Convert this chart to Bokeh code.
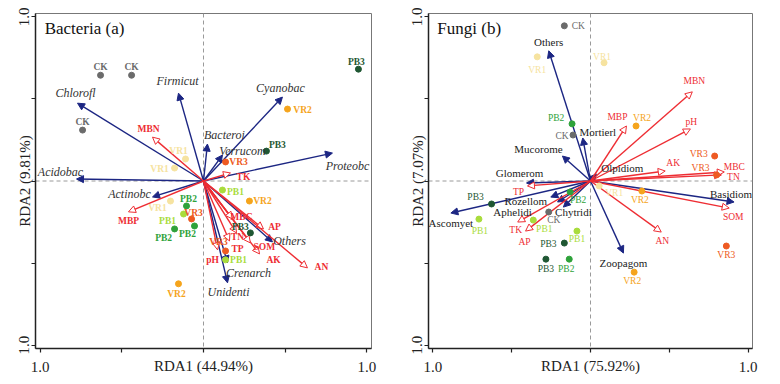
from bokeh.plotting import figure
from bokeh.layouts import row
from bokeh.models import ColumnDataSource, Arrow, NormalHead, Span, FixedTicker, Label, Range1d
from bokeh.core.properties import value
from bokeh.embed import file_html
from bokeh.resources import INLINE

# ---------------- Bacteria (a) ----------------
bac_species = ["Chlorofl", "Firmicut", "Acidobac", "Actinobc", "Bacteroi", "Verrucom",
               "Cyanobac", "Proteobc", "Others", "Crenarch", "Unidenti"]
bac_species_x = [-0.771, -0.153, -0.777, -0.312, 0.024, 0.116, 0.483, 0.789, 0.422, 0.147, 0.147]
bac_species_y = [0.474, 0.535, 0.012, -0.097, 0.225, 0.158, 0.511, 0.170, -0.371, -0.498, -0.620]

bac_env = ["MBN", "MBP", "TK", "AP", "AN", "AK", "SOM", "TN", "MBC", "TP", "pH"]
bac_env_x = [-0.312, -0.459, 0.165, 0.367, 0.636, 0.343, 0.287, 0.202, 0.177, 0.159, 0.086]
bac_env_y = [0.267, -0.188, 0.049, -0.292, -0.529, -0.444, -0.377, -0.316, -0.231, -0.365, -0.419]

bac_sample = ["CK", "CK", "CK", "VR1", "VR1", "VR1", "PB2", "PB2", "PB2", "PB1", "PB1", "PB1",
              "VR3", "VR3", "VR3", "VR2", "VR2", "VR2", "PB3", "PB3", "PB3"]
bac_sample_x = [-0.630, -0.440, -0.740, -0.110, -0.177, -0.202, -0.104, -0.055, -0.177, -0.122, 0.116, 0.135,
                -0.073, 0.135, 0.135, 0.514, 0.281, -0.153, 0.948, 0.385, 0.287]
bac_sample_y = [0.644, 0.644, 0.310, 0.134, 0.079, -0.122, -0.152, -0.274, -0.292, -0.201, -0.055, -0.480,
                -0.231, 0.116, -0.426, 0.438, -0.122, -0.626, 0.681, 0.182, -0.316]

# ---------------- Fungi (b) ----------------
fun_species = ["Others", "Mortierl", "Mucorome", "Glomerom", "Ascomyet", "Rozellom", "Aphelidi",
               "Chytridi", "Olpidiom", "Basidiom", "Zoopagom"]
fun_species_x = [-0.265, -0.049, -0.178, -0.406, -0.886, -0.252, -0.209, -0.172, 0.037, 0.911, 0.209]
fun_species_y = [0.793, 0.262, 0.152, -0.012, -0.195, -0.098, -0.128, -0.159, 0.043, -0.128, -0.439]

fun_env = ["MBN", "MBP", "pH", "AK", "MBC", "TN", "SOM", "AN", "TP", "TK", "AP"]
fun_env_x = [0.646, 0.228, 0.634, 0.474, 0.849, 0.831, 0.880, 0.449, -0.400, -0.462, -0.412]
fun_env_y = [0.543, 0.335, 0.317, 0.061, 0.055, 0.037, -0.165, -0.311, -0.030, -0.250, -0.305]

fun_sample = ["CK", "CK", "CK", "VR1", "VR1", "VR1", "PB2", "PB2", "PB2", "PB3", "PB3", "PB3",
              "PB1", "PB1", "PB1", "VR2", "VR2", "VR2", "VR3", "VR3", "VR3"]
fun_sample_x = [-0.166, -0.111, -0.265, -0.338, 0.086, 0.055, -0.117, -0.129, -0.135, -0.628, -0.166, -0.283,
                -0.708, -0.363, -0.086, 0.289, 0.326, 0.277, 0.788, 0.800, 0.862]
fun_sample_y = [0.945, 0.280, -0.189, 0.756, 0.720, -0.030, 0.348, -0.067, -0.476, -0.140, -0.378, -0.476,
                -0.232, -0.238, -0.305, 0.335, -0.061, -0.555, 0.152, 0.037, -0.396]

axis_ticks = [-1.0, -0.5, 0.0, 0.5, 1.0]
axis_tick_labels = ["1.0", "", "", "", "1.0"]

# ---------------- styles (label offsets in screen px) ----------------
bac_species_off = [(-2, -10), (-1, -12), (-16, -7), (-23, -3), (17, -9), (20, -4), (-2, -9), (15, 13),
                   (17, -1), (21, 10), (1, 9)]
bac_env_off = [(-4, -8), (0, 9), (13, 4), (11, -2), (14, -1), (14, 6), (14, 4), (1, 4), (9, -2), (8, 8), (-5, 10)]
bac_sample_off = [(0, -8), (0, -8), (0, -8), (-7, -8), (-15, 1), (-13, 7), (2, -7), (-7, 8), (-11, 9),
                  (-16, 7), (13, 2), (13, 0), (2, -6), (13, 0), (-7, -9), (15, 1), (13, 0), (-2, 10),
                  (-2, -7), (11, -6), (-10, -6)]
fun_species_off = [(0, -9), (15, -6), (-24, -7), (-7, -10), (0, 10), (-25, 4), (-45, 10), (10, 5),
                   (26, -6), (-3, -8), (0, 10)]
fun_env_off = [(2, -11), (-9, -9), (1, -7), (8, -8), (10, -5), (12, 2), (4, 9), (1, 9), (-9, 6), (-2, 8), (-1, 11)]
fun_sample_off = [(14, 0), (-11, 1), (5, 8), (0, 13), (-2, -6), (15, 7), (-16, -6), (8, 8), (-3, 10),
                  (-16, -7), (-16, 1), (0, 10), (1, 12), (11, 9), (0, 8), (6, -8), (-2, 9), (-2, 9),
                  (-16, -2), (-16, -7), (0, 9)]

group_color = {"CK": "#6b6b6b", "VR1": "#f6e3a0", "VR2": "#f5a41c", "VR3": "#ee5a22",
               "PB1": "#a9dc3c", "PB2": "#2ea23a", "PB3": "#1f5733"}
NAVY = "#1c2683"
RED = "#ee2d33"
FONT = "Liberation Serif"


def make_panel(title, xlab, ylab, species, sx, sy, soff, env, ex, ey, eoff, samples, px, py, poff,
               bold, sp_style, sp_color, sp_size, lab_size, width, bl, br):
    p = figure(width=width, height=382, x_range=Range1d(-1.028, 1.028), y_range=Range1d(-1.02, 1.02),
               output_backend="svg", toolbar_location=None, min_border_left=bl, min_border_right=br,
               min_border_top=13, min_border_bottom=34, background_fill_color="white")
    p.grid.visible = False
    p.outline_line_color = "#777777"
    p.outline_line_width = 1
    overrides = {t: s for t, s in zip(axis_ticks, axis_tick_labels)}
    for ax in (p.xaxis[0], p.yaxis[0]):
        ax.ticker = FixedTicker(ticks=axis_ticks)
        ax.major_label_overrides = overrides
        ax.minor_tick_line_color = None
        ax.major_tick_in = 0
        ax.major_tick_out = 4
        ax.axis_line_color = "#222222"
        ax.axis_line_width = 1.5
        ax.major_tick_line_color = "#222222"
        ax.major_tick_line_width = 1.2
        ax.major_label_text_font = FONT
        ax.major_label_text_font_size = "15px"
        ax.major_label_text_color = "#222222"
        ax.axis_label_text_font = FONT
        ax.axis_label_text_font_style = "normal"
        ax.axis_label_text_font_size = "15px"
        ax.axis_label_text_color = "#222222"
        ax.major_label_standoff = 2
    p.xaxis.axis_label = xlab
    p.yaxis.axis_label = ylab
    p.yaxis.major_label_orientation = "vertical"
    p.xaxis.major_label_standoff = 9
    p.xaxis.axis_label_standoff = -17
    p.yaxis.axis_label_standoff = -16

    p.add_layout(Span(location=0, dimension="height", line_color="#9a9a9a", line_dash="4 3",
                      line_width=1, level="underlay"))
    p.add_layout(Span(location=0, dimension="width", line_color="#9a9a9a", line_dash="4 3",
                      line_width=1, level="underlay"))

    # species arrows
    ssrc = ColumnDataSource(dict(x0=[0] * len(species), y0=[0] * len(species), x=sx, y=sy, t=species,
                                 dx=[o[0] for o in soff], dy=[o[1] for o in soff]))
    p.add_layout(Arrow(end=NormalHead(size=7, fill_color=NAVY, line_color=NAVY, line_width=1),
                       x_start="x0", y_start="y0", x_end="x", y_end="y", source=ssrc,
                       line_color=NAVY, line_width=1.4, level="underlay"))
    # environment arrows
    esrc = ColumnDataSource(dict(x0=[0] * len(env), y0=[0] * len(env), x=ex, y=ey, t=env,
                                 dx=[o[0] for o in eoff], dy=[o[1] for o in eoff]))
    p.add_layout(Arrow(end=NormalHead(size=7, fill_color="white", line_color=RED, line_width=1),
                       x_start="x0", y_start="y0", x_end="x", y_end="y", source=esrc,
                       line_color=RED, line_width=1.4, level="underlay"))

    # samples
    cols = [group_color[s] for s in samples]
    psrc = ColumnDataSource(dict(x=px, y=py, t=samples, c=cols,
                                 dx=[o[0] for o in poff], dy=[o[1] for o in poff]))
    p.scatter("x", "y", source=psrc, size=6, fill_color="c", line_color="c", marker="circle")

    weight = "bold" if bold else "normal"
    p.text("x", "y", text="t", source=psrc, x_offset="dx", y_offset="dy", text_color="c",
           text_font=value(FONT), text_font_style=weight, text_font_size=lab_size,
           text_align="center", text_baseline="middle")
    p.text("x", "y", text="t", source=esrc, x_offset="dx", y_offset="dy", text_color=RED,
           text_font=value(FONT), text_font_style=weight, text_font_size=lab_size,
           text_align="center", text_baseline="middle")
    p.text("x", "y", text="t", source=ssrc, x_offset="dx", y_offset="dy", text_color=sp_color,
           text_font=value(FONT), text_font_style=sp_style, text_font_size=sp_size,
           text_align="center", text_baseline="middle")

    p.add_layout(Label(x=-0.972, y=0.93, text=title, text_font=FONT, text_font_size="17px",
                       text_baseline="middle", text_align="left", text_color="#111111"))
    return p


p1 = make_panel("Bacteria (a)", "RDA1 (44.94%)", "RDA2 (9.81%)",
                bac_species, bac_species_x, bac_species_y, bac_species_off,
                bac_env, bac_env_x, bac_env_y, bac_env_off,
                bac_sample, bac_sample_x, bac_sample_y, bac_sample_off,
                True, "italic", "#333333", "12px", "9.5px", 390, 35, 19)
p2 = make_panel("Fungi (b)", "RDA1 (75.92%)", "RDA2 (7.07%)",
                fun_species, fun_species_x, fun_species_y, fun_species_off,
                fun_env, fun_env_x, fun_env_y, fun_env_off,
                fun_sample, fun_sample_x, fun_sample_y, fun_sample_off,
                False, "normal", "#222222", "11px", "9.5px", 388, 38, 26)

layout = row(p1, p2)
open("out.html", "w").write(file_html(layout, INLINE))
